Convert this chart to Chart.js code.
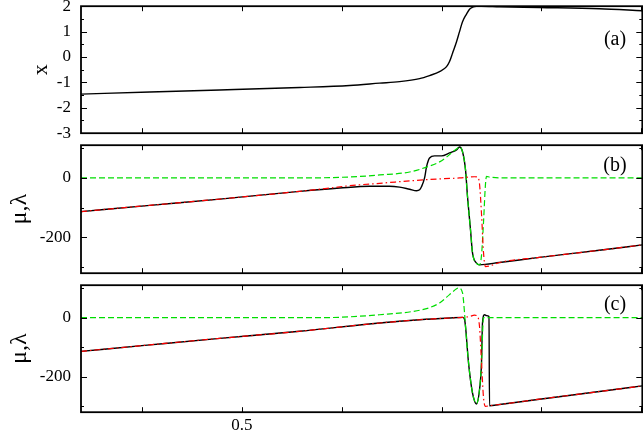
<!DOCTYPE html>
<html>
<head>
<meta charset="utf-8">
<script src="https://cdn.jsdelivr.net/npm/chart.js@4/dist/chart.umd.min.js"></script>
<style>
  html, body { margin: 0; padding: 0; background: #fff; }
  #wrap { position: relative; width: 643px; height: 437px; overflow: hidden; background: #fff; }
  canvas { position: absolute; left: 0; }
</style>
</head>
<body>
<div id="wrap">
  <canvas id="panelA" width="643" height="160" style="top:-10px"></canvas>
  <canvas id="panelB" width="643" height="160" style="top:130px"></canvas>
  <canvas id="panelC" width="643" height="167" style="top:270px"></canvas>
</div>
<script>
// x axis
const X_MIN = 0.339, X_MAX = 0.901;
const X_TICKS = [0.4, 0.5, 0.6, 0.7, 0.8, 0.9];
const X_LABELS = [0.5];

// panel (a): x
const A_Y_LABELS = [-3, -2, -1, 0, 1, 2];
const A_Y_MINOR = [-2.5, -1.5, -0.5, 0.5, 1.5];
const A_X = [0.339, 0.408, 0.478, 0.558, 0.608, 0.638, 0.658, 0.678, 0.688, 0.698, 0.705, 0.708, 0.711,
  0.715, 0.718, 0.721, 0.725, 0.728, 0.731, 0.735, 0.740, 0.758, 0.798, 0.858, 0.901];
const A_BLACK = [-1.46, -1.38, -1.30, -1.2, -1.12, -1.03, -0.97, -0.85, -0.73, -0.58, -0.38, -0.18, 0.15,
  0.6, 1.0, 1.39, 1.69, 1.88, 1.96, 2.0, 2.0, 1.98, 1.95, 1.9, 1.82];

// panels (b),(c): mu, lambda
const ML_Y_LABELS = [-200, 0];
const ML_Y_MINOR = [-300, -100, 100];

const B_BLACK_X = [0.339, 0.408, 0.478, 0.558, 0.598, 0.628, 0.648, 0.658, 0.668, 0.675, 0.678, 0.680, 0.683, 0.685,
  0.688, 0.693, 0.700, 0.708, 0.715, 0.718, 0.721, 0.724, 0.726, 0.729, 0.731, 0.735, 0.738, 0.758, 0.798, 0.858, 0.901];
const B_BLACK = [-113, -92, -71, -45, -34, -28, -28, -31, -38, -43, -40, -29, 0, 38,
  67, 74, 74, 84, 94, 104, 88, 27, -63, -175, -252, -286, -292, -284, -267, -243, -225];
const B_RED_X = [0.339, 0.408, 0.478, 0.558, 0.588, 0.608, 0.638, 0.688, 0.718, 0.733, 0.736, 0.738, 0.740, 0.742,
  0.744, 0.748, 0.758, 0.798, 0.858, 0.901];
const B_RED = [-113, -92, -71, -45, -34, -26, -18, -5, 0, 4, 3, -20, -120, -250,
  -298, -296, -284, -267, -243, -225];
const B_GREEN_X = [0.339, 0.558, 0.588, 0.618, 0.638, 0.668, 0.688, 0.698, 0.705, 0.710, 0.716, 0.718, 0.721, 0.724,
  0.726, 0.729, 0.731, 0.735, 0.738, 0.740, 0.742, 0.744, 0.745, 0.748, 0.758, 0.901];
const B_GREEN = [0, 0, 1, 5, 10, 20, 40, 54, 70, 84, 100, 104, 88, 27,
  -63, -175, -252, -286, -292, -260, -150, -20, 5, 3, 0, 0];

const C_BLACK_X = [0.339, 0.408, 0.478, 0.558, 0.638, 0.678, 0.708, 0.721, 0.723, 0.724, 0.727, 0.731, 0.735, 0.738,
  0.740, 0.741, 0.743, 0.745, 0.7475, 0.748, 0.758, 0.798, 0.858, 0.901];
const C_BLACK = [-114, -92, -70, -46, -18, -7, -1, 1, -5, -30, -153, -255, -292, -244,
  -153, -18, 10, 7, 4, -298, -294, -276, -250, -231];
const C_RED_X = [0.339, 0.408, 0.478, 0.558, 0.638, 0.678, 0.708, 0.721, 0.728, 0.733, 0.736, 0.738, 0.740, 0.742,
  0.744, 0.748, 0.758, 0.798, 0.858, 0.901];
const C_RED = [-114, -92, -70, -46, -18, -7, -1, 1, 4, 9, 5, -30, -150, -270,
  -300, -298, -294, -276, -250, -231];
const C_GREEN_X = [0.339, 0.578, 0.608, 0.638, 0.671, 0.688, 0.698, 0.708, 0.715, 0.717, 0.721, 0.723, 0.724, 0.727,
  0.731, 0.735, 0.738, 0.740, 0.742, 0.748, 0.901];
const C_GREEN = [0, 0, 3, 10, 21, 34, 50, 78, 98, 101, 84, 17, -30, -150,
  -255, -290, -244, -153, 0, 0, 0];

const SERIF = '"Liberation Serif", "DejaVu Serif", serif';

function pts(xs, ys) {
  return xs.map((x, i) => ({ x: x, y: ys[i] }));
}

function line(xs, ys, color, dash, width) {
  return {
    data: pts(xs, ys),
    borderColor: color,
    borderWidth: width,
    borderDash: dash,
    pointRadius: 0,
    fill: false,
    cubicInterpolationMode: 'monotone'
  };
}

// frame with inward ticks on all sides + panel letter
const frameTicks = {
  id: 'frameTicks',
  afterDatasetsDraw(chart, args, opts) {
    const { ctx, chartArea: a, scales: { x, y } } = chart;
    ctx.save();
    ctx.strokeStyle = '#000';
    ctx.lineWidth = 1;
    ctx.beginPath();
    X_TICKS.forEach(v => {
      const px = Math.round(x.getPixelForValue(v)) + 0.5;
      ctx.moveTo(px, a.top); ctx.lineTo(px, a.top + 5);
      ctx.moveTo(px, a.bottom); ctx.lineTo(px, a.bottom - 5);
    });
    opts.major.forEach(v => {
      const py = Math.round(y.getPixelForValue(v)) + 0.5;
      ctx.moveTo(a.left, py); ctx.lineTo(a.left + 6, py);
      ctx.moveTo(a.right, py); ctx.lineTo(a.right - 6, py);
    });
    opts.minor.forEach(v => {
      const py = Math.round(y.getPixelForValue(v)) + 0.5;
      ctx.moveTo(a.left, py); ctx.lineTo(a.left + 3, py);
      ctx.moveTo(a.right, py); ctx.lineTo(a.right - 3, py);
    });
    ctx.stroke();
    ctx.lineWidth = 1.8;
    ctx.strokeRect(a.left, a.top, a.width, a.height);
    ctx.fillStyle = '#000';
    ctx.font = '20px ' + SERIF;
    ctx.textAlign = 'center';
    ctx.textBaseline = 'middle';
    ctx.fillText(opts.label, 615, a.top + opts.labelY);
    ctx.restore();
  }
};

function makePanel(id, datasets, cfg) {
  const xAxis = {
    type: 'linear',
    min: X_MIN,
    max: X_MAX,
    display: cfg.showX,
    grid: { display: false, drawTicks: false },
    border: { display: false },
    afterBuildTicks: s => { s.ticks = X_LABELS.map(v => ({ value: v })); },
    ticks: { color: '#000', font: { family: SERIF, size: 17 }, padding: 3, maxRotation: 0, autoSkip: false }
  };
  if (cfg.showX) xAxis.afterFit = s => { s.height = 25; };

  const canvas = document.getElementById(id);
  const chart = new Chart(canvas, {
    type: 'line',
    data: { datasets: datasets },
    plugins: [frameTicks],
    options: {
      responsive: false,
      maintainAspectRatio: false,
      animation: false,
      devicePixelRatio: 1,
      layout: { padding: { top: 15, bottom: cfg.showX ? 0 : 17, left: 0, right: 0 } },
      plugins: {
        legend: { display: false },
        tooltip: { enabled: false },
        frameTicks: { major: cfg.major, minor: cfg.minor, label: cfg.label, labelY: cfg.labelY }
      },
      scales: {
        x: xAxis,
        y: {
          min: cfg.min,
          max: cfg.max,
          grid: { display: false, drawTicks: false },
          border: { display: false },
          afterBuildTicks: s => { s.ticks = cfg.major.map(v => ({ value: v })); },
          afterFit: s => { s.width = 81; },
          ticks: { color: '#000', font: { family: SERIF, size: 17 }, padding: 10, autoSkip: false },
          title: {
            display: true,
            text: cfg.title,
            color: '#000',
            font: { family: SERIF, size: cfg.titleSize },
            padding: { top: cfg.titlePad, bottom: 0 }
          }
        }
      }
    }
  });

  // grow the canvas so the plot area gets the wanted height, then slide it into place
  let h = canvas.height;
  for (let k = 0; k < 3; k++) {
    const a = chart.chartArea;
    const diff = (cfg.pageBottom - cfg.pageTop) - (a.bottom - a.top);
    if (Math.abs(diff) < 0.5) break;
    h += diff;
    chart.resize(643, h);
  }
  canvas.style.top = (cfg.pageTop - chart.chartArea.top) + 'px';
  return chart;
}

const GREEN = '#00dd00';
const RED = '#ff0000';
const GREEN_DASH = [6, 3];
const RED_DASH = [6, 3, 1.5, 3];

makePanel('panelA', [
  line(A_X, A_BLACK, '#000', [], 1.4)
], { min: -3, max: 2, major: A_Y_LABELS, minor: A_Y_MINOR, label: '(a)', labelY: 34,
     title: 'x', titleSize: 22, titlePad: 28, showX: false, pageTop: 6, pageBottom: 133 });

makePanel('panelB', [
  line(B_RED_X, B_RED, RED, RED_DASH, 1.2),
  line(B_GREEN_X, B_GREEN, GREEN, GREEN_DASH, 1.2),
  line(B_BLACK_X, B_BLACK, '#000', [], 1.4)
], { min: -320, max: 110, major: ML_Y_LABELS, minor: ML_Y_MINOR, label: '(b)', labelY: 21,
     title: 'μ,λ', titleSize: 24, titlePad: 5, showX: false, pageTop: 145, pageBottom: 273 });

makePanel('panelC', [
  line(C_RED_X, C_RED, RED, RED_DASH, 1.2),
  line(C_GREEN_X, C_GREEN, GREEN, GREEN_DASH, 1.2),
  line(C_BLACK_X, C_BLACK, '#000', [], 1.4)
], { min: -320, max: 110, major: ML_Y_LABELS, minor: ML_Y_MINOR, label: '(c)', labelY: 20,
     title: 'μ,λ', titleSize: 24, titlePad: 5, showX: true, pageTop: 285, pageBottom: 412 });
</script>
</body>
</html>
